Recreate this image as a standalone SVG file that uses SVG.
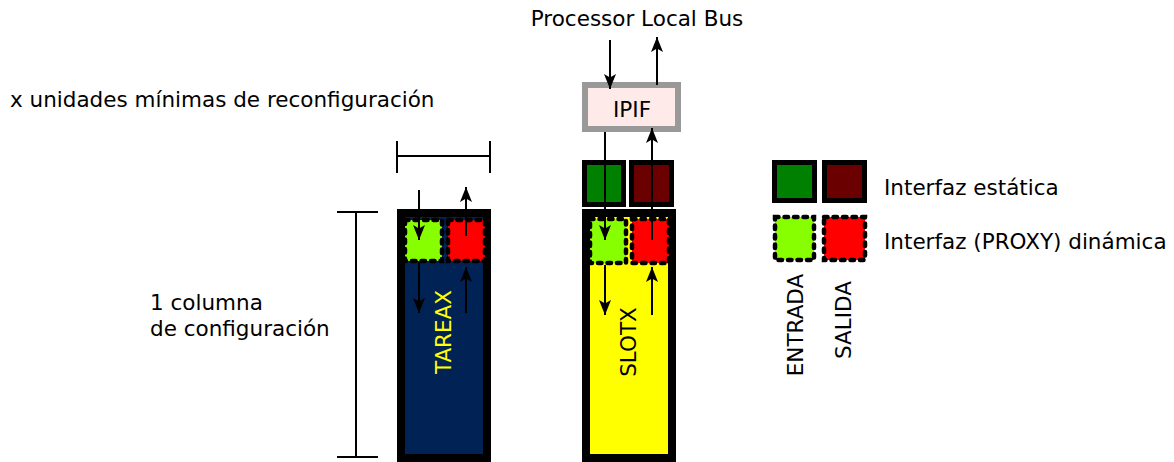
<svg xmlns="http://www.w3.org/2000/svg" width="1174" height="462" viewBox="0 0 1174 462">
<defs>
<marker id="ah" markerUnits="userSpaceOnUse" markerWidth="18" markerHeight="16" viewBox="0 -8 18 16" refX="15" refY="0" orient="auto">
<path d="M0,-6 L15,0 L0,6 L3.5,0 z" fill="#000"/>
</marker>
</defs>
<style>
text{font-family:"DejaVu Sans","Liberation Sans",sans-serif;font-size:21.5px;fill:#000}
.col{stroke:#000;stroke-width:8}
.stat{stroke:#000;stroke-width:5}
.dyn{stroke:#000;stroke-width:4.5;stroke-dasharray:3.5 6;stroke-linecap:round}
.dim{stroke:#000;stroke-width:2;fill:none}
.arr{stroke:#000;stroke-width:2;fill:none;marker-end:url(#ah)}
</style>
<rect width="1174" height="462" fill="#fff"/>

<g id="labels">
<text x="637" y="26" text-anchor="middle">Processor Local Bus</text>
<text x="10" y="107">x unidades mínimas de reconfiguración</text>
<text x="150" y="310">1 columna</text>
<text x="150" y="336">de configuración</text>
</g>

<g id="dimensions">
<path class="dim" d="M397,156 H490 M397,141 V173 M490,141 V173"/>
<path class="dim" d="M356,212 V457 M337,212 H378 M337,457 H378"/>
</g>

<g id="tareax">
<rect class="col" x="401" y="213" width="86" height="245" fill="#002255"/>
<rect class="dyn" x="405" y="220" width="37" height="41" fill="#88ff00"/>
<rect class="dyn" x="448" y="220" width="37" height="41" fill="#ff0000"/>
<text x="451" y="332" text-anchor="middle" transform="rotate(-90 451 332)" style="fill:#ffff00">TAREAX</text>
</g>

<g id="ipif">
<rect x="585" y="85" width="93" height="44" fill="#ffeaea" stroke="#999" stroke-width="6"/>
<text x="632" y="117" text-anchor="middle">IPIF</text>
</g>

<g id="static-if">
<rect class="stat" x="584.5" y="162.5" width="39" height="42" fill="#008000"/>
<rect class="stat" x="631.5" y="162.5" width="40" height="42" fill="#6b0000"/>
</g>

<g id="slotx">
<rect class="col" x="586" y="213" width="86" height="245" fill="#ffff00"/>
<rect class="dyn" x="590" y="219" width="36" height="44" fill="#88ff00"/>
<rect class="dyn" x="632" y="219" width="37" height="44" fill="#ff0000"/>
<text x="636" y="342" text-anchor="middle" transform="rotate(-90 636 342)">SLOTX</text>
</g>

<g id="legend">
<rect class="stat" x="774.5" y="162.5" width="40" height="38" fill="#008000"/>
<rect class="stat" x="824.5" y="162.5" width="40" height="38" fill="#6b0000"/>
<rect class="dyn" x="775" y="217" width="39" height="43" fill="#88ff00"/>
<rect class="dyn" x="824" y="217" width="41" height="43" fill="#ff0000"/>
<text x="884" y="195">Interfaz estática</text>
<text x="884" y="249">Interfaz (PROXY) dinámica</text>
<text x="803" y="325" text-anchor="middle" transform="rotate(-90 803 325)">ENTRADA</text>
<text x="851" y="320" text-anchor="middle" transform="rotate(-90 851 320)">SALIDA</text>
</g>

<g id="connectors">
<path class="arr" d="M419,190 V240"/>
<path class="arr" d="M466,236 V187"/>
<path class="arr" d="M419,262 V313"/>
<path class="arr" d="M466,313 V267"/>
<path class="arr" d="M610,40 V89"/>
<path class="arr" d="M657,85 V37"/>
<path class="arr" d="M605,132 V240"/>
<path class="arr" d="M652,240 V128"/>
<path class="arr" d="M605,265 V315"/>
<path class="arr" d="M652,315 V267"/>
</g>
</svg>
